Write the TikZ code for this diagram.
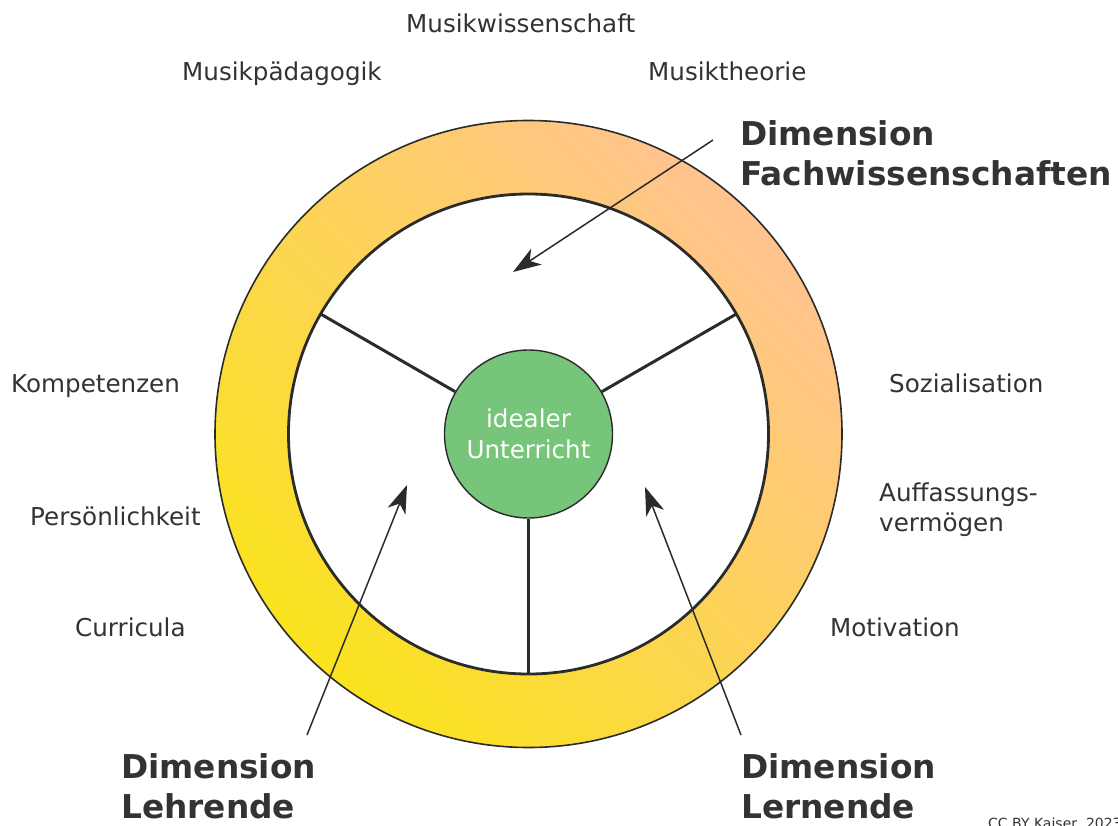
\documentclass[tikz,border=0pt]{standalone}
\usepackage{fontspec}
\setmainfont{DejaVu Sans}
\usetikzlibrary{arrows.meta}
\definecolor{txt}{HTML}{333333}
\definecolor{ringY}{HTML}{FAE31E}
\definecolor{ringP}{HTML}{FFC390}
\definecolor{ctr}{HTML}{77C57A}
\definecolor{edge}{HTML}{2B2B2B}
\begin{document}
\begin{tikzpicture}[x=1pt,y=-1pt,
  lbl/.style={text=txt, font=\fontsize{24.6}{30}\selectfont, inner sep=0pt, anchor=base west},
  lbltwo/.style={text=txt, font=\fontsize{24.6}{30}\selectfont, inner sep=0pt, anchor=west, align=left},
  dim/.style={text=txt, font=\bfseries\fontsize{32.8}{40}\selectfont, inner sep=0pt, anchor=west, align=left},
  ptr/.style={draw=edge, line width=1.5pt, -{Stealth[length=28pt,width=19pt,inset=8pt]}},
  spoke/.style={draw=edge, line width=3pt}]
\useasboundingbox (0,0) rectangle (1118,826);
\fill[white] (0,0) rectangle (1118,826);
\coordinate (c) at (528.5,434);
% ring
\shade[even odd rule, top color=ringP, bottom color=ringY, shading angle=-45]
  (c) circle (313.5pt) (c) circle (240pt);
\draw[edge, line width=1.6pt] (c) circle (313.5pt);
\draw[edge, line width=2.8pt, fill=white] (c) circle (240pt);
% spokes
\path (c) ++(150:240pt) coordinate (s1);
\path (c) ++(30:240pt) coordinate (s2);
\path (c) ++(270:240pt) coordinate (s3);
\node[circle, fill=ctr, draw=edge, line width=1.4pt, minimum size=168pt, inner sep=0pt,
  text=white, align=center, font=\fontsize{24.6}{31}\selectfont] (core) at (c) {idealer\\Unterricht};
\draw[spoke] (core.150) -- (s1);
\draw[spoke] (core.30) -- (s2);
\draw[spoke] (core.270) -- (s3);
% labels
\node[lbl] (mw) at (406,33) {Musikwissenschaft};
\node[lbl] (mp) at (182,81) {Musikpädagogik};
\node[lbl] (mt) at (648,81) {Musiktheorie};
\node[lbl] (ko) at (11,392) {Kompetenzen};
\node[lbl] (so) at (889,392) {Sozialisation};
\node[lbl] (pe) at (30,525) {Persönlichkeit};
\node[lbltwo] (au) at (879,509.5) {Auffassungs-\\vermögen};
\node[lbl] (cu) at (75,636) {Curricula};
\node[lbl] (mo) at (830,636) {Motivation};
\node[dim] (df) at (740,153) {Dimension\\Fachwissenschaften};
\node[dim] (dh) at (121,786) {Dimension\\Lehrende};
\node[dim] (dl) at (741,786) {Dimension\\Lernende};
\node[text=txt, font=\fontsize{14}{16}\selectfont, inner sep=0pt, anchor=base west] (cc) at (988,828) {CC BY Kaiser, 2023};
% arrows
\coordinate (af0) at (713,140);
\coordinate (af1) at (513,272);
\coordinate (ah0) at (307,735);
\coordinate (ah1) at (407,485);
\coordinate (al0) at (741,735);
\coordinate (al1) at (645,487);
\draw[ptr] (af0) -- (af1);
\draw[ptr] (ah0) -- (ah1);
\draw[ptr] (al0) -- (al1);
\end{tikzpicture}
\end{document}
